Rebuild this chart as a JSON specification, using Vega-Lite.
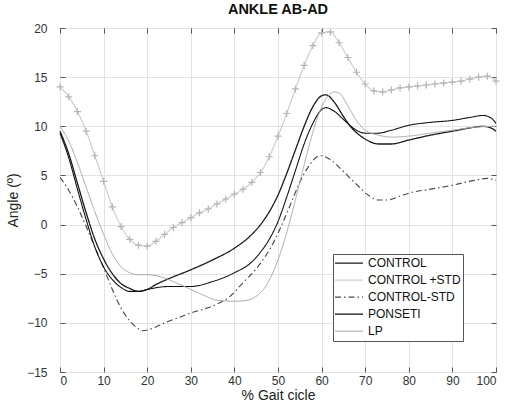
{
  "$schema": "https://vega.github.io/schema/vega-lite/v6.json",
  "width": 436,
  "height": 344,
  "autosize": {"type": "none"},
  "padding": {"left": 60, "top": 28, "right": 16, "bottom": 42},
  "background": "white",
  "title": {"text": "ANKLE AB-AD", "font": "Liberation Sans", "fontSize": 14.5, "fontWeight": "bold", "color": "#111", "offset": 5},
  "config": {
    "view": {"stroke": "#444", "strokeWidth": 1},
    "axis": {"labelFont": "Liberation Sans", "labelFontSize": 12, "labelColor": "#333", "titleFont": "Liberation Sans", "titleFontSize": 14, "titleFontWeight": "normal", "titleColor": "#222", "gridColor": "#e3e3e3", "gridWidth": 1, "domain": false, "tickColor": "#555", "tickSize": -5},
    "legend": {"clipHeight": 16.3, "rowPadding": 0, "symbolSize": 784, "symbolType": "stroke", "symbolStrokeWidth": 2, "labelFont": "Liberation Sans", "labelFontSize": 12, "labelColor": "#111", "labelOffset": 4, "padding": 1, "fillColor": "white", "strokeColor": "#555"}
  },
  "data": {"values": [
    {"x": 0, "s": "CONTROL", "y": 9.5}, {"x": 2, "s": "CONTROL", "y": 7.2}, {"x": 4, "s": "CONTROL", "y": 4.2}, {"x": 6, "s": "CONTROL", "y": 1.2}, {"x": 8, "s": "CONTROL", "y": -1.5}, {"x": 10, "s": "CONTROL", "y": -3.5}, {"x": 12, "s": "CONTROL", "y": -5.0}, {"x": 14, "s": "CONTROL", "y": -6.0}, {"x": 16, "s": "CONTROL", "y": -6.5}, {"x": 18, "s": "CONTROL", "y": -6.8}, {"x": 20, "s": "CONTROL", "y": -6.6}, {"x": 22, "s": "CONTROL", "y": -6.1}, {"x": 25, "s": "CONTROL", "y": -5.5}, {"x": 30, "s": "CONTROL", "y": -4.6}, {"x": 35, "s": "CONTROL", "y": -3.6}, {"x": 40, "s": "CONTROL", "y": -2.4}, {"x": 44, "s": "CONTROL", "y": -1.0}, {"x": 46, "s": "CONTROL", "y": 0.0}, {"x": 48, "s": "CONTROL", "y": 1.3}, {"x": 50, "s": "CONTROL", "y": 3.0}, {"x": 52, "s": "CONTROL", "y": 5.2}, {"x": 54, "s": "CONTROL", "y": 7.6}, {"x": 56, "s": "CONTROL", "y": 10.0}, {"x": 58, "s": "CONTROL", "y": 12.0}, {"x": 60, "s": "CONTROL", "y": 13.1}, {"x": 61, "s": "CONTROL", "y": 13.2}, {"x": 63, "s": "CONTROL", "y": 12.4}, {"x": 65, "s": "CONTROL", "y": 11.0}, {"x": 67, "s": "CONTROL", "y": 9.8}, {"x": 70, "s": "CONTROL", "y": 8.7}, {"x": 73, "s": "CONTROL", "y": 8.2}, {"x": 76, "s": "CONTROL", "y": 8.2}, {"x": 80, "s": "CONTROL", "y": 8.6}, {"x": 85, "s": "CONTROL", "y": 9.1}, {"x": 90, "s": "CONTROL", "y": 9.5}, {"x": 95, "s": "CONTROL", "y": 9.9}, {"x": 97, "s": "CONTROL", "y": 10.0}, {"x": 99, "s": "CONTROL", "y": 9.8}, {"x": 100, "s": "CONTROL", "y": 9.5},

    {"x": 0, "s": "CONTROL +STD", "y": 14.0}, {"x": 2, "s": "CONTROL +STD", "y": 13.0}, {"x": 4, "s": "CONTROL +STD", "y": 11.5}, {"x": 6, "s": "CONTROL +STD", "y": 9.5}, {"x": 8, "s": "CONTROL +STD", "y": 7.0}, {"x": 10, "s": "CONTROL +STD", "y": 4.4}, {"x": 12, "s": "CONTROL +STD", "y": 1.8}, {"x": 14, "s": "CONTROL +STD", "y": -0.2}, {"x": 16, "s": "CONTROL +STD", "y": -1.5}, {"x": 18, "s": "CONTROL +STD", "y": -2.1}, {"x": 20, "s": "CONTROL +STD", "y": -2.2}, {"x": 22, "s": "CONTROL +STD", "y": -1.7}, {"x": 24, "s": "CONTROL +STD", "y": -1.0}, {"x": 26, "s": "CONTROL +STD", "y": -0.3}, {"x": 28, "s": "CONTROL +STD", "y": 0.2}, {"x": 30, "s": "CONTROL +STD", "y": 0.7}, {"x": 32, "s": "CONTROL +STD", "y": 1.2}, {"x": 34, "s": "CONTROL +STD", "y": 1.6}, {"x": 36, "s": "CONTROL +STD", "y": 2.1}, {"x": 38, "s": "CONTROL +STD", "y": 2.6}, {"x": 40, "s": "CONTROL +STD", "y": 3.1}, {"x": 42, "s": "CONTROL +STD", "y": 3.6}, {"x": 44, "s": "CONTROL +STD", "y": 4.3}, {"x": 46, "s": "CONTROL +STD", "y": 5.3}, {"x": 48, "s": "CONTROL +STD", "y": 6.9}, {"x": 50, "s": "CONTROL +STD", "y": 9.0}, {"x": 52, "s": "CONTROL +STD", "y": 11.3}, {"x": 54, "s": "CONTROL +STD", "y": 13.8}, {"x": 56, "s": "CONTROL +STD", "y": 16.2}, {"x": 58, "s": "CONTROL +STD", "y": 18.2}, {"x": 60, "s": "CONTROL +STD", "y": 19.5}, {"x": 62, "s": "CONTROL +STD", "y": 19.6}, {"x": 64, "s": "CONTROL +STD", "y": 18.5}, {"x": 66, "s": "CONTROL +STD", "y": 17.0}, {"x": 68, "s": "CONTROL +STD", "y": 15.5}, {"x": 70, "s": "CONTROL +STD", "y": 14.3}, {"x": 72, "s": "CONTROL +STD", "y": 13.6}, {"x": 74, "s": "CONTROL +STD", "y": 13.5}, {"x": 76, "s": "CONTROL +STD", "y": 13.7}, {"x": 78, "s": "CONTROL +STD", "y": 13.9}, {"x": 80, "s": "CONTROL +STD", "y": 14.0}, {"x": 82, "s": "CONTROL +STD", "y": 14.1}, {"x": 84, "s": "CONTROL +STD", "y": 14.2}, {"x": 86, "s": "CONTROL +STD", "y": 14.3}, {"x": 88, "s": "CONTROL +STD", "y": 14.4}, {"x": 90, "s": "CONTROL +STD", "y": 14.5}, {"x": 92, "s": "CONTROL +STD", "y": 14.6}, {"x": 94, "s": "CONTROL +STD", "y": 14.8}, {"x": 96, "s": "CONTROL +STD", "y": 15.0}, {"x": 98, "s": "CONTROL +STD", "y": 15.1}, {"x": 100, "s": "CONTROL +STD", "y": 14.6},

    {"x": 0, "s": "CONTROL-STD", "y": 4.8}, {"x": 2, "s": "CONTROL-STD", "y": 3.5}, {"x": 4, "s": "CONTROL-STD", "y": 1.8}, {"x": 6, "s": "CONTROL-STD", "y": -0.2}, {"x": 8, "s": "CONTROL-STD", "y": -2.3}, {"x": 10, "s": "CONTROL-STD", "y": -4.4}, {"x": 12, "s": "CONTROL-STD", "y": -6.6}, {"x": 14, "s": "CONTROL-STD", "y": -8.5}, {"x": 16, "s": "CONTROL-STD", "y": -9.8}, {"x": 18, "s": "CONTROL-STD", "y": -10.6}, {"x": 19, "s": "CONTROL-STD", "y": -10.8}, {"x": 21, "s": "CONTROL-STD", "y": -10.6}, {"x": 24, "s": "CONTROL-STD", "y": -10.0}, {"x": 27, "s": "CONTROL-STD", "y": -9.5}, {"x": 30, "s": "CONTROL-STD", "y": -9.0}, {"x": 33, "s": "CONTROL-STD", "y": -8.6}, {"x": 36, "s": "CONTROL-STD", "y": -8.1}, {"x": 39, "s": "CONTROL-STD", "y": -7.3}, {"x": 42, "s": "CONTROL-STD", "y": -5.9}, {"x": 45, "s": "CONTROL-STD", "y": -4.5}, {"x": 47, "s": "CONTROL-STD", "y": -3.3}, {"x": 49, "s": "CONTROL-STD", "y": -1.8}, {"x": 51, "s": "CONTROL-STD", "y": 0.1}, {"x": 53, "s": "CONTROL-STD", "y": 2.2}, {"x": 55, "s": "CONTROL-STD", "y": 4.3}, {"x": 57, "s": "CONTROL-STD", "y": 5.9}, {"x": 59, "s": "CONTROL-STD", "y": 6.9}, {"x": 60, "s": "CONTROL-STD", "y": 7.0}, {"x": 62, "s": "CONTROL-STD", "y": 6.6}, {"x": 65, "s": "CONTROL-STD", "y": 5.4}, {"x": 68, "s": "CONTROL-STD", "y": 4.1}, {"x": 71, "s": "CONTROL-STD", "y": 2.9}, {"x": 73, "s": "CONTROL-STD", "y": 2.5}, {"x": 75, "s": "CONTROL-STD", "y": 2.5}, {"x": 78, "s": "CONTROL-STD", "y": 2.9}, {"x": 80, "s": "CONTROL-STD", "y": 3.2}, {"x": 85, "s": "CONTROL-STD", "y": 3.6}, {"x": 90, "s": "CONTROL-STD", "y": 4.0}, {"x": 95, "s": "CONTROL-STD", "y": 4.5}, {"x": 98, "s": "CONTROL-STD", "y": 4.7}, {"x": 100, "s": "CONTROL-STD", "y": 4.5},

    {"x": 0, "s": "PONSETI", "y": 9.3}, {"x": 2, "s": "PONSETI", "y": 6.8}, {"x": 4, "s": "PONSETI", "y": 3.6}, {"x": 6, "s": "PONSETI", "y": 0.5}, {"x": 8, "s": "PONSETI", "y": -2.3}, {"x": 10, "s": "PONSETI", "y": -4.3}, {"x": 12, "s": "PONSETI", "y": -5.6}, {"x": 14, "s": "PONSETI", "y": -6.4}, {"x": 16, "s": "PONSETI", "y": -6.8}, {"x": 18, "s": "PONSETI", "y": -6.8}, {"x": 20, "s": "PONSETI", "y": -6.6}, {"x": 25, "s": "PONSETI", "y": -6.3}, {"x": 30, "s": "PONSETI", "y": -6.3}, {"x": 35, "s": "PONSETI", "y": -5.8}, {"x": 40, "s": "PONSETI", "y": -4.9}, {"x": 44, "s": "PONSETI", "y": -3.8}, {"x": 46, "s": "PONSETI", "y": -2.8}, {"x": 48, "s": "PONSETI", "y": -1.5}, {"x": 50, "s": "PONSETI", "y": 0.3}, {"x": 52, "s": "PONSETI", "y": 2.8}, {"x": 54, "s": "PONSETI", "y": 5.5}, {"x": 56, "s": "PONSETI", "y": 8.2}, {"x": 58, "s": "PONSETI", "y": 10.3}, {"x": 60, "s": "PONSETI", "y": 11.7}, {"x": 61, "s": "PONSETI", "y": 11.9}, {"x": 63, "s": "PONSETI", "y": 11.5}, {"x": 65, "s": "PONSETI", "y": 10.7}, {"x": 67, "s": "PONSETI", "y": 9.9}, {"x": 70, "s": "PONSETI", "y": 9.3}, {"x": 73, "s": "PONSETI", "y": 9.3}, {"x": 76, "s": "PONSETI", "y": 9.6}, {"x": 80, "s": "PONSETI", "y": 10.1}, {"x": 85, "s": "PONSETI", "y": 10.4}, {"x": 90, "s": "PONSETI", "y": 10.6}, {"x": 94, "s": "PONSETI", "y": 10.9}, {"x": 97, "s": "PONSETI", "y": 11.1}, {"x": 99, "s": "PONSETI", "y": 10.8}, {"x": 100, "s": "PONSETI", "y": 10.3},

    {"x": 0, "s": "LP", "y": 10.0}, {"x": 2, "s": "LP", "y": 8.5}, {"x": 4, "s": "LP", "y": 6.3}, {"x": 6, "s": "LP", "y": 3.8}, {"x": 8, "s": "LP", "y": 1.3}, {"x": 10, "s": "LP", "y": -1.0}, {"x": 12, "s": "LP", "y": -3.0}, {"x": 14, "s": "LP", "y": -4.3}, {"x": 16, "s": "LP", "y": -4.9}, {"x": 18, "s": "LP", "y": -5.1}, {"x": 20, "s": "LP", "y": -5.1}, {"x": 23, "s": "LP", "y": -5.3}, {"x": 26, "s": "LP", "y": -5.8}, {"x": 30, "s": "LP", "y": -6.6}, {"x": 33, "s": "LP", "y": -7.2}, {"x": 36, "s": "LP", "y": -7.7}, {"x": 40, "s": "LP", "y": -7.8}, {"x": 43, "s": "LP", "y": -7.7}, {"x": 45, "s": "LP", "y": -7.3}, {"x": 47, "s": "LP", "y": -6.4}, {"x": 49, "s": "LP", "y": -4.7}, {"x": 51, "s": "LP", "y": -2.3}, {"x": 53, "s": "LP", "y": 0.8}, {"x": 55, "s": "LP", "y": 4.3}, {"x": 57, "s": "LP", "y": 7.8}, {"x": 59, "s": "LP", "y": 10.8}, {"x": 61, "s": "LP", "y": 12.8}, {"x": 63, "s": "LP", "y": 13.5}, {"x": 64, "s": "LP", "y": 13.4}, {"x": 66, "s": "LP", "y": 12.1}, {"x": 68, "s": "LP", "y": 10.6}, {"x": 70, "s": "LP", "y": 9.6}, {"x": 73, "s": "LP", "y": 9.1}, {"x": 76, "s": "LP", "y": 8.9}, {"x": 80, "s": "LP", "y": 9.0}, {"x": 85, "s": "LP", "y": 9.3}, {"x": 90, "s": "LP", "y": 9.6}, {"x": 95, "s": "LP", "y": 9.9}, {"x": 100, "s": "LP", "y": 10.0}
  ]},
  "layer": [
    {
      "mark": {"type": "line", "interpolate": "monotone"},
      "encoding": {
        "x": {"field": "x", "type": "quantitative", "scale": {"domain": [0, 100], "nice": false}, "axis": {"values": [0, 10, 20, 30, 40, 50, 60, 70, 80, 90, 100], "title": "% Gait cicle", "labelPadding": 8, "titlePadding": 2}},
        "y": {"field": "y", "type": "quantitative", "scale": {"domain": [-15, 20], "nice": false}, "axis": {"values": [-15, -10, -5, 0, 5, 10, 15, 20], "title": "Angle (º)", "labelPadding": 18, "titlePadding": 6}},
        "color": {"field": "s", "type": "nominal", "scale": {"domain": ["CONTROL", "CONTROL +STD", "CONTROL-STD", "PONSETI", "LP"], "range": ["#1a1a1a", "#cfcfcf", "#4a4a4a", "#111111", "#a8a8a8"]}, "legend": {"title": null, "orient": "none", "legendX": 273, "legendY": 226}},
        "strokeDash": {"field": "s", "type": "nominal", "scale": {"domain": ["CONTROL", "CONTROL +STD", "CONTROL-STD", "PONSETI", "LP"], "range": [[1, 0], [1, 0], [6, 3, 1.5, 3], [1, 0], [1, 0]]}, "legend": {"title": null}},
        "strokeWidth": {"field": "s", "type": "nominal", "scale": {"domain": ["CONTROL", "CONTROL +STD", "CONTROL-STD", "PONSETI", "LP"], "range": [1.3, 1, 1.2, 2.4, 2]}, "legend": {"title": null}}
      }
    },
    {
      "transform": [{"filter": "datum.s === 'CONTROL +STD'"}],
      "mark": {"type": "point", "shape": "M-1,0H1M0,-1V1", "filled": false, "size": 50, "color": "#b5b5b5", "strokeWidth": 1.2, "opacity": 1},
      "encoding": {
        "x": {"field": "x", "type": "quantitative", "axis": {"orient": "top", "values": [0, 10, 20, 30, 40, 50, 60, 70, 80, 90, 100], "labels": false, "title": null, "grid": false}},
        "y": {"field": "y", "type": "quantitative", "axis": {"orient": "right", "values": [-15, -10, -5, 0, 5, 10, 15, 20], "labels": false, "title": null, "grid": false}}
      }
    }
  ],
  "resolve": {"axis": {"x": "independent", "y": "independent"}}
}
